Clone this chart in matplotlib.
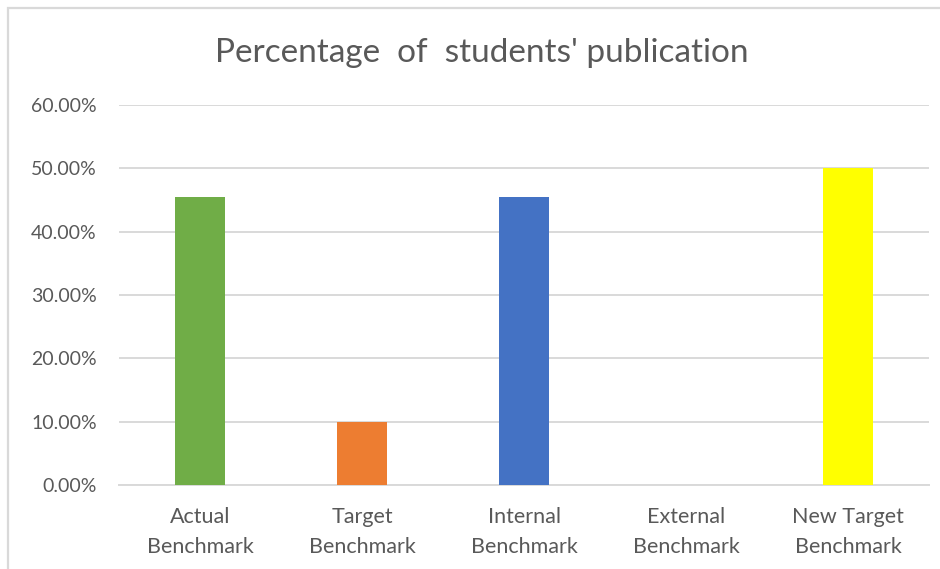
import matplotlib.pyplot as plt
from matplotlib.ticker import FuncFormatter
from matplotlib.patches import Rectangle

# benchmark categories and share of students' publications
categories = ["Actual\nBenchmark", "Target\nBenchmark", "Internal\nBenchmark",
              "External\nBenchmark", "New Target\nBenchmark"]
percent = [45.4, 10.0, 45.4, 0.0, 50.0]
bar_colors = ["#70ad47", "#ed7d31", "#4472c4", "#a5a5a5", "#ffff00"]
y_ticks = [0, 10, 20, 30, 40, 50, 60]

plt.rcParams['font.family'] = ['Lato', 'DejaVu Sans']

fig = plt.figure(figsize=(9.4, 5.69), dpi=100)
ax = fig.add_axes([0.1266, 0.1476, 0.8617, 0.6679])

x = list(range(len(categories)))
ax.bar(x, percent, width=0.31, color=bar_colors, zorder=3)

ax.set_xlim(-0.5, len(categories) - 0.5)
ax.set_ylim(0, 60)
ax.set_yticks(y_ticks)
ax.yaxis.set_major_formatter(FuncFormatter(lambda v, p: "{:.2f}%".format(v)))
ax.set_xticks(x)
ax.set_xticklabels(categories, linespacing=1.6)

ax.grid(axis='y', color='#d9d9d9', linewidth=1.4, zorder=0)
for s in ['top', 'right', 'left']:
    ax.spines[s].set_visible(False)
ax.spines['bottom'].set_color('#d9d9d9')
ax.spines['bottom'].set_linewidth(1.4)
ax.tick_params(axis='both', length=0, colors='#595959')
ax.tick_params(axis='x', labelsize=15.5, pad=16)
ax.tick_params(axis='y', labelsize=14, pad=16)

fig.text(0.513, 0.906, "Percentage  of  students' publication", ha='center', va='center',
         fontsize=24, color='#595959')

# light frame around the chart
fig.patches.append(Rectangle((8 / 940, -0.1), 1.2, 1 - 8 / 569 + 0.1, transform=fig.transFigure,
                             fill=False, edgecolor='#d9d9d9', linewidth=1.6))

fig.savefig("out.png", dpi=100)
